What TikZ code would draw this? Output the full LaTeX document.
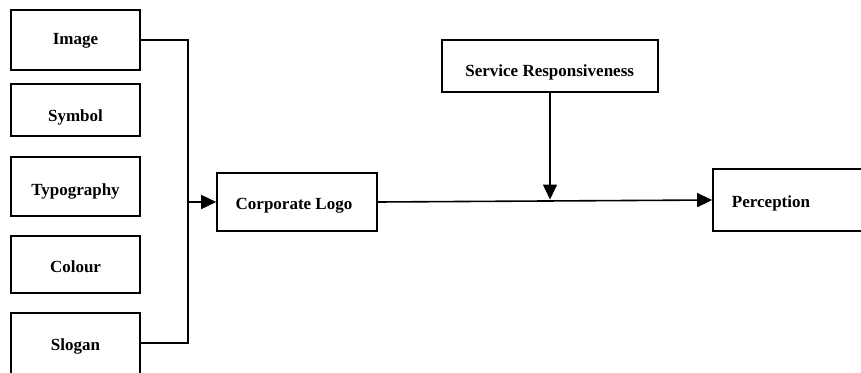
\documentclass[tikz,border=0pt]{standalone}
\usepackage{fontspec}
\setmainfont{Liberation Serif}
\usetikzlibrary{arrows.meta}
\tikzset{
  box/.style={draw, rectangle, line width=1.6pt, inner sep=0pt},
  lbl/.style={font=\fontsize{17}{20}\selectfont\bfseries, anchor=base, inner sep=0pt},
  wire/.style={line width=1.6pt},
  arrow/.style={wire, -{Triangle[length=15pt,width=14pt]}}
}
\begin{document}
\begin{tikzpicture}[x=1pt, y=-1pt]
  \path[use as bounding box, clip] (0,0) rectangle (861,372);

  % logo elements
  \node[box, minimum width=129pt, minimum height=60pt] (image) at (75.5,40) {};
  \node[lbl] (timage) at (75.5,44.3) {Image};
  \node[box, minimum width=129pt, minimum height=52pt] (symbol) at (75.5,110) {};
  \node[lbl] (tsymbol) at (75.5,121) {Symbol};
  \node[box, minimum width=129pt, minimum height=59pt] (typo) at (75.5,186.5) {};
  \node[lbl] (ttypo) at (75.5,195) {Typography};
  \node[box, minimum width=129pt, minimum height=57pt] (colour) at (75.5,264.5) {};
  \node[lbl] (tcolour) at (75.5,272) {Colour};
  \node[box, minimum width=129pt, minimum height=62pt] (slogan) at (75.5,344) {};
  \node[lbl] (tslogan) at (75.5,350) {Slogan};

  % main constructs
  \node[box, minimum width=160pt, minimum height=58pt] (logo) at (297,202) {};
  \node[lbl] (tlogo) at (294,209) {Corporate Logo};
  \node[box, minimum width=216pt, minimum height=52pt] (serv) at (550,66) {};
  \node[lbl] (tserv) at (549.7,76.7) {Service Responsiveness};
  \node[box, minimum width=151pt, minimum height=62pt] (perc) at (788.5,200) {};
  \node[lbl] (tperc) at (771,207) {Perception};

  % collector bus
  \coordinate (jtop) at (188,40);
  \coordinate (jmid) at (188,202);
  \coordinate (jbot) at (188,343);
  \draw[wire] (image.east) -- (jtop) -- (jbot) -- (slogan.east |- jbot);
  \draw[arrow] (jmid) -- (logo.west);

  % logo to perception, moderated by service
  \draw[arrow] (logo.east) -- (perc.west);
  \coordinate (mtip) at (550,199.5);
  \draw[arrow] (serv.south) -- (mtip);
\end{tikzpicture}
\end{document}
